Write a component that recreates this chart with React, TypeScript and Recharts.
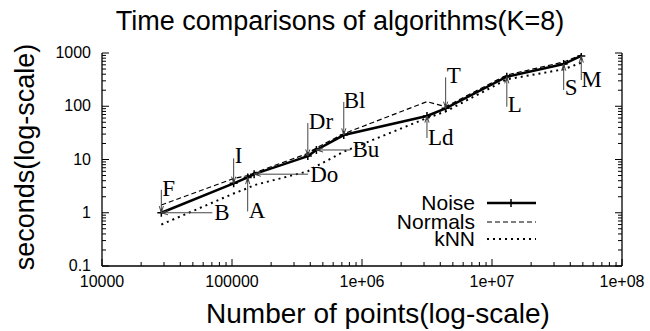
import React from 'react';
import { ComposedChart, Line, Scatter, XAxis, YAxis } from 'recharts';

// ---- data ----
const pointsX = [28600, 103000, 132000, 148000, 383000, 446000, 724000, 3160000, 4400000, 13000000, 35600000, 48600000];
const noiseSec = [1.0, 3.57, 4.6, 5.3, 11.6, 15.1, 28.8, 65.6, 91.5, 359, 621, 879];
const normalsSec = [1.4, 4.4, 5.0, 5.6, 13.0, 16.5, 30.5, 122, 98, 386, 678, 917];
const knnSec = [0.6, 2.3, 2.9, 3.3, 6.0, 7.5, 14, 60, 80, 320, 494, 658];

const xTicks = [1e4, 1e5, 1e6, 1e7, 1e8];
const xTickLabels = ['10000', '100000', '1e+06', '1e+07', '1e+08'];
const yTicks = [0.1, 1, 10, 100, 1000];
const yTickLabels = ['0.1', '1', '10', '100', '1000'];

const annoLabels = ['F', 'B', 'I', 'A', 'Do', 'Dr', 'Bu', 'Bl', 'Ld', 'T', 'L', 'S', 'M'];
const annoPoint = [0, 0, 1, 2, 3, 4, 5, 6, 7, 8, 9, 10, 11];

// annotation layout (pixel offsets from the pointed data point)
const annoTailDx = [0, 51, 0, 0, 54, 0, 34, 0, 0, 0, 0, 0, 0];
const annoTailDy = [-23, 0, -25, 34, 0, -33, 0, -33, 22, -31, 30, 26, 24];
const annoTextDx = [1, 53, 1, 1, 56, 1, 36, 0, 1, 1, 1, 1, 0];
const annoTextDy = [-17, 7, -20, 41, 8, -27, 7, -27, 29, -25, 35, 31, 31];

const seriesNames = ['Noise', 'Normals', 'kNN'];

// ---- derived tables ----
const rows = pointsX.map((x, i) => ({ x, noise: noiseSec[i], normals: normalsSec[i], knn: knnSec[i] }));
const annoRows = annoLabels.map((label, i) => ({
  x: pointsX[annoPoint[i]],
  y: noiseSec[annoPoint[i]],
  label,
  tdx: annoTailDx[i],
  tdy: annoTailDy[i],
  xdx: annoTextDx[i],
  xdy: annoTextDy[i],
}));

const minorOf = (decades: number[]) => {
  const out: number[] = [];
  decades.forEach((d) => {
    for (let m = 2; m <= 9; m++) out.push(m * d);
  });
  return out;
};
const xAllTicks = [...xTicks, ...minorOf([1e4, 1e5, 1e6, 1e7])];
const yAllTicks = [...yTicks, ...minorOf([0.1, 1, 10, 100])];

const SANS = '"Liberation Sans", Arial, Helvetica, sans-serif';
const SERIF = '"Liberation Serif", "Times New Roman", serif';
const MAJ = 7;
const MIN = 4;

const isMajor = (list: number[], v: number) => list.findIndex((t) => Math.abs(t - v) / t < 1e-9);

const BottomTick = (props: any) => {
  const { x, y, payload } = props;
  const i = isMajor(xTicks, payload.value);
  return (
    <g>
      <line x1={x} y1={y} x2={x} y2={y - (i >= 0 ? MAJ : MIN)} stroke="#000" strokeWidth={1} />
      {i >= 0 && (
        <text x={x} y={y + 21} textAnchor="middle" fontSize={16} fontFamily={SANS} fill="#000">
          {xTickLabels[i]}
        </text>
      )}
    </g>
  );
};
const TopTick = (props: any) => {
  const { x, y, payload } = props;
  const i = isMajor(xTicks, payload.value);
  return <line x1={x} y1={y} x2={x} y2={y + (i >= 0 ? MAJ : MIN)} stroke="#000" strokeWidth={1} />;
};
const LeftTick = (props: any) => {
  const { x, y, payload } = props;
  const i = isMajor(yTicks, payload.value);
  return (
    <g>
      <line x1={x} y1={y} x2={x + (i >= 0 ? MAJ : MIN)} y2={y} stroke="#000" strokeWidth={1} />
      {i >= 0 && (
        <text x={x - 11} y={y + 5} textAnchor="end" fontSize={16} fontFamily={SANS} fill="#000">
          {yTickLabels[i]}
        </text>
      )}
    </g>
  );
};
const RightTick = (props: any) => {
  const { x, y, payload } = props;
  const i = isMajor(yTicks, payload.value);
  return <line x1={x} y1={y} x2={x - (i >= 0 ? MAJ : MIN)} y2={y} stroke="#000" strokeWidth={1} />;
};

const PlusDot = (props: any) => {
  const { cx, cy, index } = props;
  if (cx == null || cy == null) return <g key={`p${index}`} />;
  const s = 4;
  return (
    <path
      key={`p${index}`}
      d={`M${cx - s},${cy}H${cx + s}M${cx},${cy - s}V${cy + s}`}
      stroke="#000"
      strokeWidth={1.5}
      fill="none"
    />
  );
};

const AnnoShape = (props: any) => {
  const { cx, cy, payload } = props;
  if (cx == null || cy == null) return <g />;
  const tx = cx + payload.tdx;
  const ty = cy + payload.tdy;
  const ang = Math.atan2(cy - ty, cx - tx);
  const hl = 7;
  const ha = 0.3;
  const h1x = cx - hl * Math.cos(ang - ha);
  const h1y = cy - hl * Math.sin(ang - ha);
  const h2x = cx - hl * Math.cos(ang + ha);
  const h2y = cy - hl * Math.sin(ang + ha);
  return (
    <g>
      <line x1={tx} y1={ty} x2={cx} y2={cy} stroke="#444" strokeWidth={1} />
      <path d={`M${h1x},${h1y}L${cx},${cy}L${h2x},${h2y}`} stroke="#444" strokeWidth={1} fill="none" />
      <text x={cx + payload.xdx} y={cy + payload.xdy} fontSize={23} fontFamily={SERIF} fill="#000">
        {payload.label}
      </text>
    </g>
  );
};

export default function App() {
  const W = 650;
  const H = 331;
  const legendY = [203, 222, 239];
  return (
    <div style={{ position: 'absolute', left: 0, top: 0, width: W, height: H, background: '#fff' }}>
      <ComposedChart width={W} height={H} data={rows} margin={{ top: 53, right: 0, bottom: 0, left: 0 }}>
        <XAxis
          dataKey="x"
          type="number"
          scale="log"
          domain={[1e4, 1e8]}
          allowDataOverflow
          ticks={xAllTicks}
          interval={0}
          tickSize={0}
          tickMargin={0}
          tickLine={false}
          tick={<BottomTick />}
          height={65}
          axisLine={{ stroke: '#000', strokeWidth: 1.3 }}
        />
        <XAxis
          xAxisId="top"
          dataKey="x"
          orientation="top"
          type="number"
          scale="log"
          domain={[1e4, 1e8]}
          allowDataOverflow
          ticks={xAllTicks}
          interval={0}
          tickSize={0}
          tickMargin={0}
          tickLine={false}
          tick={<TopTick />}
          height={0}
          axisLine={{ stroke: '#000', strokeWidth: 1.3 }}
        />
        <YAxis
          type="number"
          scale="log"
          domain={[0.1, 1000]}
          allowDataOverflow
          ticks={yAllTicks}
          interval={0}
          tickSize={0}
          tickMargin={0}
          tickLine={false}
          tick={<LeftTick />}
          width={102}
          axisLine={{ stroke: '#000', strokeWidth: 1.3 }}
        />
        <YAxis
          yAxisId="right"
          orientation="right"
          type="number"
          scale="log"
          domain={[0.1, 1000]}
          allowDataOverflow
          ticks={yAllTicks}
          interval={0}
          tickSize={0}
          tickMargin={0}
          tickLine={false}
          tick={<RightTick />}
          width={28}
          axisLine={{ stroke: '#000', strokeWidth: 1.3 }}
        />
        <Line
          dataKey="knn"
          name={seriesNames[2]}
          type="linear"
          stroke="#000"
          strokeWidth={2}
          strokeDasharray="2 4"
          dot={false}
          activeDot={false}
          isAnimationActive={false}
        />
        <Line
          dataKey="normals"
          name={seriesNames[1]}
          type="linear"
          stroke="#000"
          strokeWidth={1.2}
          strokeDasharray="5 3"
          dot={false}
          activeDot={false}
          isAnimationActive={false}
        />
        <Line
          dataKey="noise"
          name={seriesNames[0]}
          type="linear"
          stroke="#000"
          strokeWidth={2.5}
          dot={<PlusDot />}
          activeDot={false}
          isAnimationActive={false}
        />
        <Scatter data={annoRows} dataKey="y" shape={<AnnoShape />} isAnimationActive={false} legendType="none" />
      </ComposedChart>
      <svg
        width={W}
        height={H}
        style={{ position: 'absolute', left: 0, top: 0, pointerEvents: 'none' }}
      >
        <text x={340} y={30} textAnchor="middle" fontSize={27} fontFamily={SANS} fill="#000">
          Time comparisons of algorithms(K=8)
        </text>
        <text x={378} y={323} textAnchor="middle" fontSize={28} fontFamily={SANS} fill="#000">
          Number of points(log-scale)
        </text>
        <text
          x={0}
          y={0}
          transform="translate(34,157) rotate(-90)"
          textAnchor="middle"
          fontSize={27}
          fontFamily={SANS}
          fill="#000"
        >
          seconds(log-scale)
        </text>
        {seriesNames.map((n, i) => (
          <text key={n} x={475} y={legendY[i] + 7} textAnchor="end" fontSize={21} fontFamily={SANS} fill="#000">
            {n}
          </text>
        ))}
        <line x1={487} y1={legendY[0]} x2={536} y2={legendY[0]} stroke="#000" strokeWidth={2.5} />
        <path d={`M507,${legendY[0]}H515M511,${legendY[0] - 4}V${legendY[0] + 4}`} stroke="#000" strokeWidth={1.5} />
        <line x1={487} y1={legendY[1]} x2={536} y2={legendY[1]} stroke="#000" strokeWidth={1.2} strokeDasharray="5 3" />
        <line x1={487} y1={legendY[2]} x2={536} y2={legendY[2]} stroke="#000" strokeWidth={2} strokeDasharray="2 4" />
      </svg>
    </div>
  );
}
